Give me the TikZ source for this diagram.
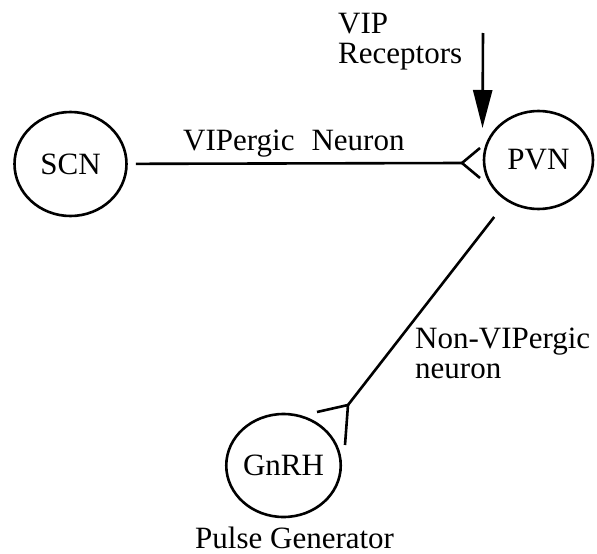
\documentclass[tikz,border=0pt]{standalone}
\usepackage{fontspec}
\setmainfont{Liberation Serif}
\usetikzlibrary{shapes.geometric,arrows.meta}
\begin{document}
\begin{tikzpicture}[x=1pt,y=-1pt,
  cell/.style={draw,ellipse,line width=2.6pt,inner sep=0pt,font=\fontsize{31}{34}\selectfont},
  lbl/.style={font=\fontsize{31}{34}\selectfont,inner sep=0pt,anchor=base west},
  nerve/.style={line width=2.6pt},
]
\useasboundingbox[fill=white] (0,0) rectangle (597,554);
% cells
\node[cell,minimum width=112pt,minimum height=104pt] (scn) at (70.5,164) {SCN};
\node[cell,minimum width=109pt,minimum height=98pt] (pvn) at (538.5,160) {PVN};
\node[cell,minimum width=111pt,minimum height=103pt] (gnrh) at (283.5,465.5) {GnRH};
% synapse points
\coordinate (s1) at (462,163);
\coordinate (s2) at (348,405);
\coordinate (vtop) at (483,33);
\coordinate (vtip) at (482.5,128);
% VIPergic neuron
\draw[nerve,shorten <=8pt] (scn) -- (s1);
\draw[nerve] (s1) ++(18,-15) -- (s1) -- ++(18,15);
% Non-VIPergic neuron
\draw[nerve,shorten <=20pt] (pvn) -- (s2);
\draw[nerve] (s2) ++(-31,7) -- (s2) -- ++(-3,40);
% VIP receptor arrow
\draw[nerve,-{Triangle[length=38pt,width=19pt]}] (vtop) -- (vtip);
% labels
\node[lbl] (vip) at (338,33) {VIP};
\node[lbl] (rec) at (338,63) {Receptors};
\node[lbl] (vipn) at (183,150.5) {VIPergic\hspace{17pt}Neuron};
\node[lbl] (nonvip) at (415,348) {Non-VIPergic};
\node[lbl] (neur) at (415,378) {neuron};
\node[lbl] (pulse) at (195,548) {Pulse Generator};
\end{tikzpicture}
\end{document}
